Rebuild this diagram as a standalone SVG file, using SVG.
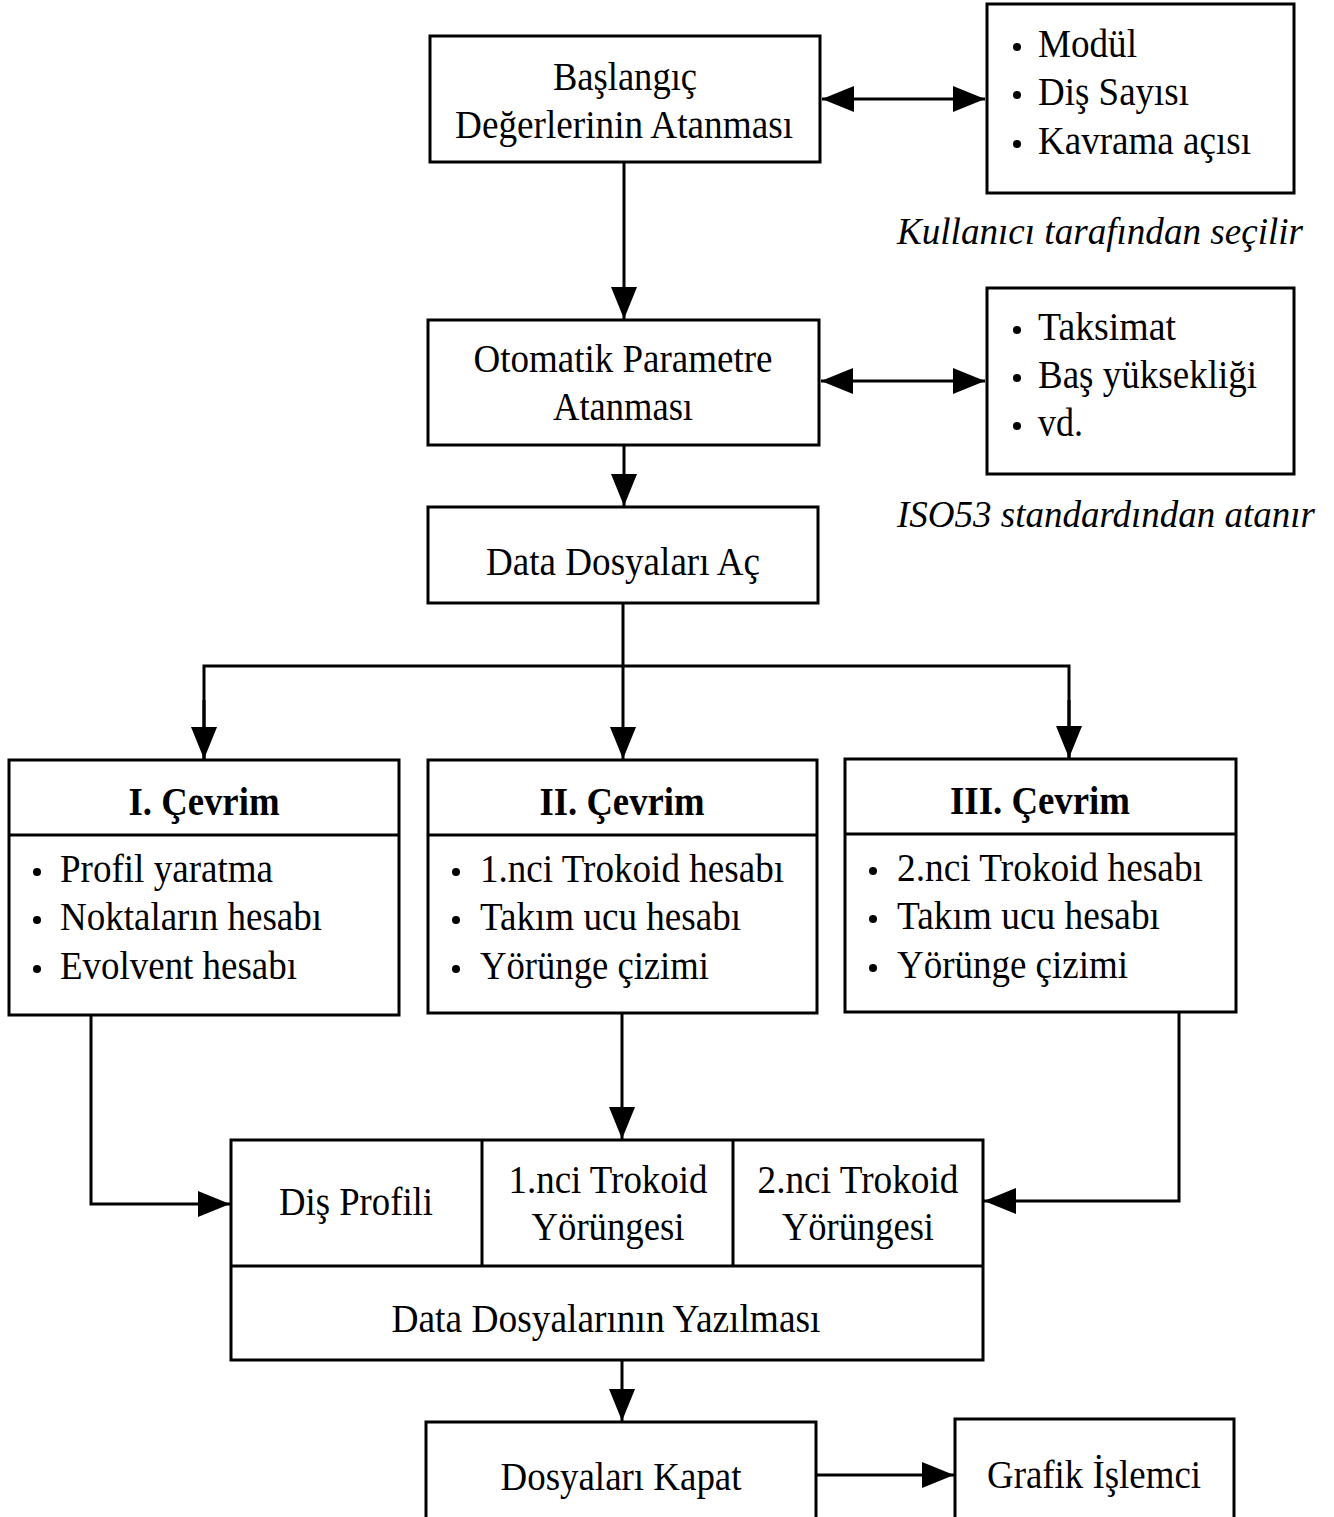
<svg xmlns="http://www.w3.org/2000/svg" width="1334" height="1517" viewBox="0 0 1334 1517">
<defs>
<style>
.b{fill:none;stroke:#000;stroke-width:3}
.l{fill:none;stroke:#000;stroke-width:3}
text{font-family:"Liberation Serif","Times New Roman",serif;font-size:41px;fill:#000}
.c{text-anchor:middle}
.bold{font-weight:bold}
.it{font-style:italic;font-size:37px}
.dot{fill:#000}
</style>
<marker id="ah" viewBox="0 0 32 26" refX="32" refY="13" markerWidth="32" markerHeight="26" markerUnits="userSpaceOnUse" orient="auto-start-reverse">
<path d="M0,0 L32,13 L0,26 Z" fill="#000"/>
</marker>
</defs>
<rect width="1334" height="1517" fill="#fff"/>

<g id="connectors">
<line class="l" x1="822" y1="99" x2="985" y2="99" marker-start="url(#ah)" marker-end="url(#ah)"/>
<line class="l" x1="624" y1="162" x2="624" y2="319" marker-end="url(#ah)"/>
<line class="l" x1="821" y1="381" x2="985" y2="381" marker-start="url(#ah)" marker-end="url(#ah)"/>
<line class="l" x1="624" y1="445" x2="624" y2="506" marker-end="url(#ah)"/>
<line class="l" x1="623" y1="603" x2="623" y2="759" marker-end="url(#ah)"/>
<polyline class="l" points="204,759 204,666 1069,666 1069,759"/>
<line class="l" x1="204" y1="700" x2="204" y2="759" marker-end="url(#ah)"/>
<line class="l" x1="1069" y1="700" x2="1069" y2="758" marker-end="url(#ah)"/>
<polyline class="l" points="91,1015 91,1204 230,1204" marker-end="url(#ah)"/>
<line class="l" x1="622" y1="1013" x2="622" y2="1139" marker-end="url(#ah)"/>
<polyline class="l" points="1179,1012 1179,1201 984,1201" marker-end="url(#ah)"/>
<line class="l" x1="622" y1="1360" x2="622" y2="1421" marker-end="url(#ah)"/>
<line class="l" x1="816" y1="1475" x2="954" y2="1475" marker-end="url(#ah)"/>
</g>

<g id="baslangic">
<rect class="b" x="430" y="36" width="390" height="126"/>
<text class="c" x="625" y="90" textLength="144" lengthAdjust="spacingAndGlyphs">Başlangıç</text>
<text class="c" x="624" y="138" textLength="338" lengthAdjust="spacingAndGlyphs">Değerlerinin Atanması</text>
</g>

<g id="kullanici">
<rect class="b" x="987" y="4" width="307" height="189"/>
<circle class="dot" cx="1017" cy="47" r="4"/>
<circle class="dot" cx="1017" cy="95" r="4"/>
<circle class="dot" cx="1017" cy="144" r="4"/>
<text x="1038" y="57" textLength="99" lengthAdjust="spacingAndGlyphs">Modül</text>
<text x="1038" y="105" textLength="151" lengthAdjust="spacingAndGlyphs">Diş Sayısı</text>
<text x="1038" y="154" textLength="213" lengthAdjust="spacingAndGlyphs">Kavrama açısı</text>
<text class="it" x="897" y="244" textLength="406" lengthAdjust="spacingAndGlyphs">Kullanıcı tarafından seçilir</text>
</g>

<g id="otomatik">
<rect class="b" x="428" y="320" width="391" height="125"/>
<text class="c" x="623" y="372" textLength="299" lengthAdjust="spacingAndGlyphs">Otomatik Parametre</text>
<text class="c" x="623" y="420" textLength="140" lengthAdjust="spacingAndGlyphs">Atanması</text>
</g>

<g id="iso">
<rect class="b" x="987" y="288" width="307" height="186"/>
<circle class="dot" cx="1017" cy="330" r="4"/>
<circle class="dot" cx="1017" cy="378" r="4"/>
<circle class="dot" cx="1017" cy="426" r="4"/>
<text x="1038" y="340" textLength="138" lengthAdjust="spacingAndGlyphs">Taksimat</text>
<text x="1038" y="388" textLength="219" lengthAdjust="spacingAndGlyphs">Baş yüksekliği</text>
<text x="1038" y="436" textLength="45" lengthAdjust="spacingAndGlyphs">vd.</text>
<text class="it" x="897" y="527" textLength="418" lengthAdjust="spacingAndGlyphs">ISO53 standardından atanır</text>
</g>

<g id="dataac">
<rect class="b" x="428" y="507" width="390" height="96"/>
<text class="c" x="623" y="575" textLength="274" lengthAdjust="spacingAndGlyphs">Data Dosyaları Aç</text>
</g>

<g id="cevrim1">
<rect class="b" x="9" y="760" width="390" height="255"/>
<line class="l" x1="9" y1="835" x2="399" y2="835"/>
<text class="c bold" x="204" y="815" textLength="151" lengthAdjust="spacingAndGlyphs">I. Çevrim</text>
<circle class="dot" cx="37" cy="872" r="4"/>
<circle class="dot" cx="37" cy="920" r="4"/>
<circle class="dot" cx="37" cy="969" r="4"/>
<text x="60" y="882" textLength="213" lengthAdjust="spacingAndGlyphs">Profil yaratma</text>
<text x="60" y="930" textLength="262" lengthAdjust="spacingAndGlyphs">Noktaların hesabı</text>
<text x="60" y="979" textLength="237" lengthAdjust="spacingAndGlyphs">Evolvent hesabı</text>
</g>

<g id="cevrim2">
<rect class="b" x="428" y="760" width="389" height="253"/>
<line class="l" x1="428" y1="835" x2="817" y2="835"/>
<text class="c bold" x="622" y="815" textLength="165" lengthAdjust="spacingAndGlyphs">II. Çevrim</text>
<circle class="dot" cx="456" cy="872" r="4"/>
<circle class="dot" cx="456" cy="920" r="4"/>
<circle class="dot" cx="456" cy="969" r="4"/>
<text x="480" y="882" textLength="304" lengthAdjust="spacingAndGlyphs">1.nci Trokoid hesabı</text>
<text x="480" y="930" textLength="261" lengthAdjust="spacingAndGlyphs">Takım ucu hesabı</text>
<text x="480" y="979" textLength="229" lengthAdjust="spacingAndGlyphs">Yörünge çizimi</text>
</g>

<g id="cevrim3">
<rect class="b" x="845" y="759" width="391" height="253"/>
<line class="l" x1="845" y1="834" x2="1236" y2="834"/>
<text class="c bold" x="1040" y="814" textLength="180" lengthAdjust="spacingAndGlyphs">III. Çevrim</text>
<circle class="dot" cx="873" cy="871" r="4"/>
<circle class="dot" cx="873" cy="919" r="4"/>
<circle class="dot" cx="873" cy="968" r="4"/>
<text x="897" y="881" textLength="306" lengthAdjust="spacingAndGlyphs">2.nci Trokoid hesabı</text>
<text x="897" y="929" textLength="263" lengthAdjust="spacingAndGlyphs">Takım ucu hesabı</text>
<text x="897" y="978" textLength="231" lengthAdjust="spacingAndGlyphs">Yörünge çizimi</text>
</g>

<g id="yazilmasi">
<rect class="b" x="231" y="1140" width="752" height="220"/>
<line class="l" x1="231" y1="1266" x2="983" y2="1266"/>
<line class="l" x1="482" y1="1140" x2="482" y2="1266"/>
<line class="l" x1="733" y1="1140" x2="733" y2="1266"/>
<text class="c" x="356" y="1215" textLength="154" lengthAdjust="spacingAndGlyphs">Diş Profili</text>
<text class="c" x="608" y="1193" textLength="199" lengthAdjust="spacingAndGlyphs">1.nci Trokoid</text>
<text class="c" x="608" y="1240" textLength="153" lengthAdjust="spacingAndGlyphs">Yörüngesi</text>
<text class="c" x="858" y="1193" textLength="201" lengthAdjust="spacingAndGlyphs">2.nci Trokoid</text>
<text class="c" x="858" y="1240" textLength="152" lengthAdjust="spacingAndGlyphs">Yörüngesi</text>
<text class="c" x="606" y="1332" textLength="429" lengthAdjust="spacingAndGlyphs">Data Dosyalarının Yazılması</text>
</g>

<g id="kapat">
<rect class="b" x="426" y="1422" width="390" height="100"/>
<text class="c" x="621" y="1490" textLength="241" lengthAdjust="spacingAndGlyphs">Dosyaları Kapat</text>
</g>

<g id="grafik">
<rect class="b" x="955" y="1419" width="279" height="103"/>
<text class="c" x="1094" y="1488" textLength="214" lengthAdjust="spacingAndGlyphs">Grafik İşlemci</text>
</g>
</svg>
